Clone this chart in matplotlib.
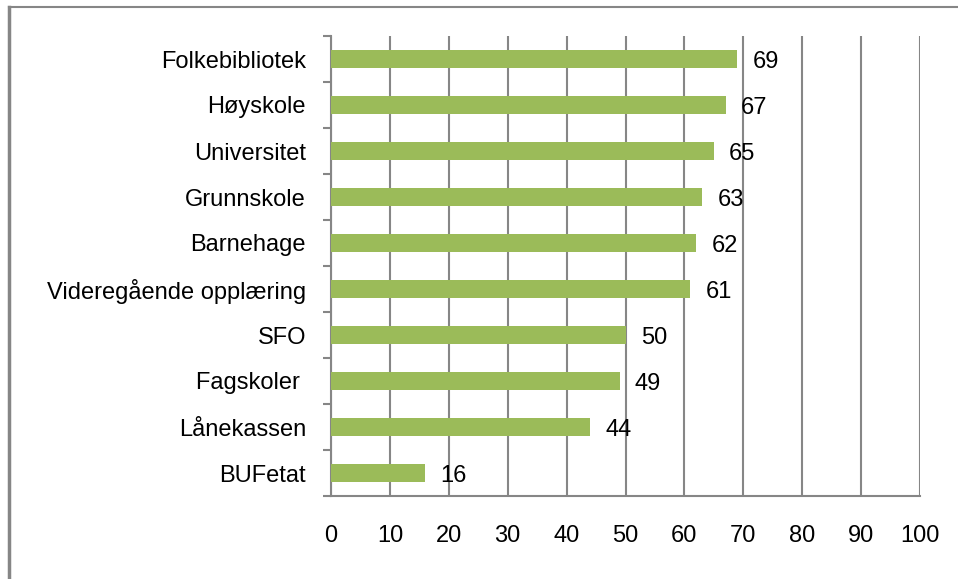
import matplotlib
matplotlib.use("Agg")
import matplotlib.pyplot as plt
from matplotlib.lines import Line2D

categories = ["Folkebibliotek", "Høyskole", "Universitet", "Grunnskole", "Barnehage",
              "Videregående opplæring", "SFO", "Fagskoler ", "Lånekassen", "BUFetat"]
values = [69, 67, 65, 63, 62, 61, 50, 49, 44, 16]
xticks = [0, 10, 20, 30, 40, 50, 60, 70, 80, 90, 100]

plt.rcParams['font.family'] = ['Liberation Sans', 'DejaVu Sans']
grid_c = "#868686"
fs = 17

fig = plt.figure(figsize=(9.58, 5.79), dpi=100)
ax = fig.add_axes([331/958, 83/579, (920-331)/958, (496-36)/579])

n = len(categories)
ypos = list(range(n))[::-1]
ax.barh(ypos, values, height=0.37, color="#9BBB59", zorder=3)
for y, v in zip(ypos, values):
    ax.annotate(str(v), xy=(v, y), xytext=(11, -2.5), textcoords="offset points",
                ha="left", va="center", fontsize=fs, color="black", zorder=4)

ax.set_xlim(0, 100)
ax.set_ylim(-0.5, n - 0.5)
ax.set_xticks(xticks)
ax.set_xticklabels([str(t) for t in xticks], fontsize=fs)
ax.set_yticks(ypos)
ax.set_yticklabels(categories, fontsize=fs)
ax.tick_params(axis="y", length=0, pad=18)
ax.tick_params(axis="x", length=0, pad=21)

# category boundary ticks
ax.set_yticks([i - 0.5 for i in range(n + 1)], minor=True)
ax.tick_params(axis="y", which="minor", length=6, width=1.5, color=grid_c, direction="out")
ax.set_xticks(xticks, minor=True)
ax.tick_params(axis="x", which="minor", length=7, width=1.5, color=grid_c, direction="out")

ax.grid(axis="x", color=grid_c, linewidth=1.5, zorder=0)
for s in ["top", "right"]:
    ax.spines[s].set_visible(False)
for s in ["left", "bottom"]:
    ax.spines[s].set_color(grid_c)
    ax.spines[s].set_linewidth(1.5)
    ax.spines[s].set_zorder(2)

# figure border (top and left)
fig.add_artist(Line2D([9/958, 1.0], [1 - 7/579, 1 - 7/579], transform=fig.transFigure,
                      color=grid_c, linewidth=1.5))
fig.add_artist(Line2D([9/958, 9/958], [0, 1 - 7/579], transform=fig.transFigure,
                      color=grid_c, linewidth=2.5))

fig.savefig("out.png", dpi=100)
